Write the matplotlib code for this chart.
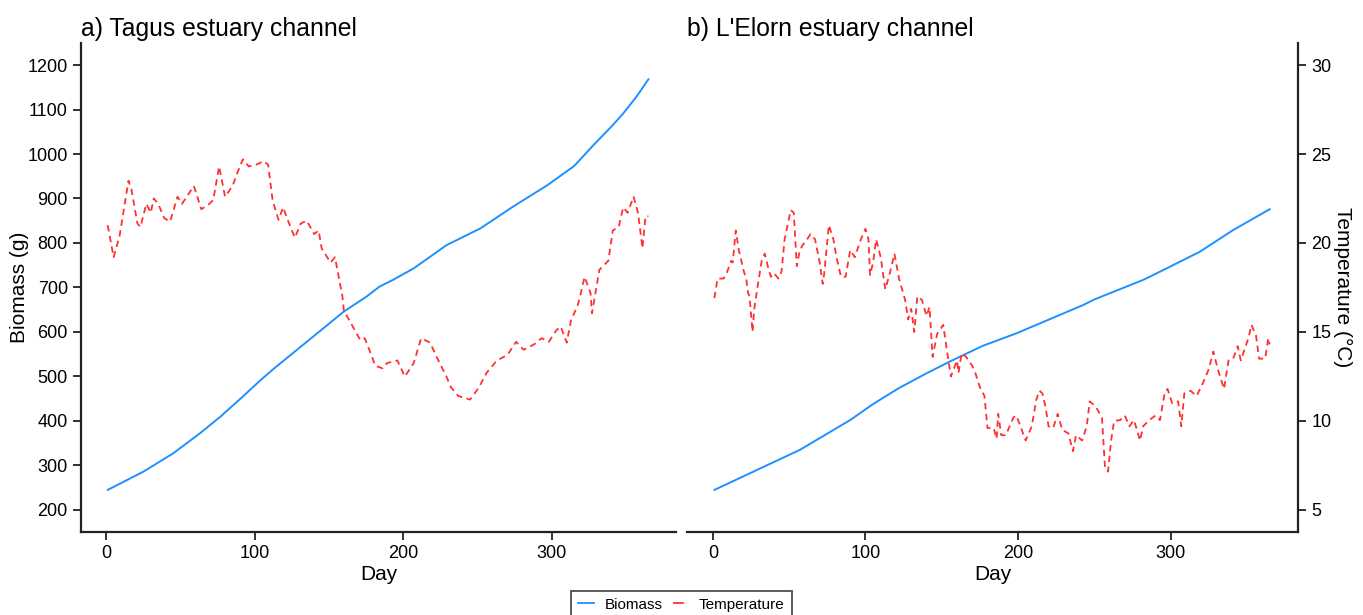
import matplotlib
matplotlib.use("Agg")
import matplotlib.pyplot as plt
from matplotlib.lines import Line2D

plt.rcParams["font.family"] = ["Liberation Sans", "DejaVu Sans"]

# a) Tagus - biomass (g)
tagus_bio_day = [1, 25, 45, 63, 77, 92, 104, 113, 131, 149, 160, 175, 184, 193, 207, 229, 252, 274, 297,
                 315, 328, 341, 348, 357, 365]
tagus_bio = [245, 286, 327, 372, 410, 455, 492, 518, 567, 616, 646, 679, 702, 717, 743, 795, 833, 882, 930,
             973, 1020, 1065, 1091, 1129, 1168]

# a) Tagus - temperature (degC)
tagus_temp_day = [1, 5, 9, 15, 17, 21, 23, 27, 30, 32, 35, 39, 43, 48, 51, 59, 64, 68, 72, 76, 80, 85, 89, 92,
                  96, 101, 106, 109, 112, 116, 119, 124, 127, 131, 135, 140, 143, 145, 151, 154, 159, 160,
                  166, 171, 174, 179, 181, 186, 189, 196, 201, 207, 212, 218, 223, 229, 232, 237, 245, 251,
                  256, 263, 270, 276, 281, 288, 293, 298, 303, 306, 310, 313, 317, 319, 322, 326, 327, 332,
                  338, 341, 345, 348, 351, 355, 358, 361, 363, 365]
tagus_temp = [21.0, 19.2, 20.4, 23.5, 23.0, 21.1, 20.9, 22.2, 21.7, 22.5, 22.2, 21.4, 21.2, 22.6, 22.2, 23.2,
              21.9, 22.1, 22.4, 24.3, 22.6, 23.2, 24.1, 24.7, 24.3, 24.4, 24.6, 24.4, 22.4, 21.3, 22.0, 20.9,
              20.3, 21.1, 21.25, 20.5, 20.7, 19.7, 18.9, 19.2, 17.0, 16.2, 15.3, 14.55, 14.65, 13.6, 13.1,
              12.96, 13.25, 13.4, 12.5, 13.25, 14.65, 14.4, 13.5, 12.5, 11.9, 11.4, 11.2, 11.9, 12.7, 13.4,
              13.7, 14.45, 14.0, 14.3, 14.65, 14.45, 15.1, 15.3, 14.4, 15.7, 16.4, 17.0, 18.1, 17.2, 16.05,
              18.5, 19.0, 20.7, 20.9, 22.0, 21.7, 22.6, 21.7, 19.7, 21.5, 21.5]

# b) L'Elorn - biomass (g)
elorn_bio_day = [1, 24, 57, 90, 105, 122, 140, 155, 177, 199, 243, 250, 282, 291, 319, 341, 365]
elorn_bio = [245, 282, 335, 402, 438, 474, 507, 533, 569, 597, 661, 673, 717, 732, 780, 829, 876]

# b) L'Elorn - temperature (degC)
elorn_temp_day = [1, 3, 7, 9, 12, 13, 15, 17, 20, 22, 23, 24, 26, 27, 29, 32, 34, 36, 38, 40, 43, 45, 47, 51,
                  53, 55, 57, 59, 61, 64, 67, 70, 72, 73, 76, 79, 81, 84, 87, 90, 93, 97, 100, 102, 103, 105,
                  107, 110, 113, 116, 119, 122, 126, 128, 130, 132, 134, 137, 140, 142, 144, 147, 151, 154,
                  156, 160, 161, 163, 166, 170, 172, 175, 178, 180, 184, 186, 187, 189, 192, 197, 199, 202,
                  205, 209, 212, 214, 216, 218, 220, 223, 226, 229, 233, 236, 238, 242, 245, 247, 251, 255,
                  257, 259, 261, 263, 267, 270, 273, 276, 280, 282, 286, 290, 293, 296, 298, 301, 305, 307,
                  309, 313, 317, 321, 325, 328, 331, 335, 338, 341, 344, 346, 351, 353, 356, 358, 362, 364, 365]
elorn_temp = [16.9, 18.0, 18.0, 18.3, 19.0, 18.9, 20.7, 19.6, 18.5, 17.9, 17.2, 17.0, 15.0, 16.2, 17.4, 19.0,
              19.4, 18.7, 18.1, 18.3, 18.0, 18.4, 20.2, 21.85, 21.7, 18.7, 19.6, 19.9, 20.1, 20.5, 20.2, 18.9,
              17.7, 18.3, 21.0, 20.2, 19.2, 18.1, 18.1, 19.6, 19.2, 20.2, 20.8, 20.2, 18.2, 18.9, 20.2, 19.2,
              17.4, 18.3, 19.4, 18.0, 16.8, 15.7, 16.3, 15.0, 17.0, 16.8, 15.9, 16.4, 13.6, 14.9, 15.4, 13.6,
              12.5, 13.4, 12.7, 13.8, 13.6, 13.1, 12.7, 11.9, 11.4, 9.6, 9.6, 9.0, 10.4, 9.2, 9.2, 10.2, 10.3,
              9.6, 8.9, 9.7, 11.2, 11.7, 11.55, 10.8, 9.7, 9.6, 10.4, 9.5, 9.3, 8.3, 9.2, 8.9, 9.7, 11.1, 10.8,
              10.2, 7.4, 7.15, 8.9, 10.0, 10.05, 10.3, 9.7, 10.05, 8.9, 9.7, 10.05, 10.3, 10.05, 11.5, 11.8,
              11.0, 11.1, 9.7, 11.55, 11.7, 11.4, 12.1, 12.9, 13.9, 12.9, 11.8, 13.4, 13.5, 14.2, 13.4, 14.65,
              15.4, 14.8, 13.5, 13.5, 14.65, 14.3]

bio_ticks = [200, 300, 400, 500, 600, 700, 800, 900, 1000, 1100, 1200]
temp_ticks = [5, 10, 15, 20, 25, 30]
day_ticks = [0, 100, 200, 300]

BLUE = "#1E90FF"
RED = "#FF3030"
DASH = (3.5, 2.5)

fig = plt.figure(figsize=(13.63, 6.15), dpi=100)
ax1 = fig.add_axes([0.0594, 0.1354, 0.4365, 0.7946])
ax2 = fig.add_axes([0.5040, 0.1354, 0.4483, 0.7946])

xlim = (-17, 383.5)
blim = (151, 1249.4)
tlim = (3.775, 31.235)

panels = [(ax1, "a) Tagus estuary channel", tagus_bio_day, tagus_bio, tagus_temp_day, tagus_temp),
          (ax2, "b) L'Elorn estuary channel", elorn_bio_day, elorn_bio, elorn_temp_day, elorn_temp)]

for i, (ax, title, bd, bv, td, tv) in enumerate(panels):
    ax.plot(bd, bv, color=BLUE, lw=1.4, zorder=3)
    tx = ax.twinx()
    tx.plot(td, tv, color=RED, lw=1.3, dashes=DASH)
    ax.set_xlim(*xlim)
    ax.set_ylim(*blim)
    tx.set_ylim(*tlim)
    ax.set_xticks(day_ticks)
    ax.set_xlabel("Day", fontsize=15, labelpad=2)
    ax.set_title(title, loc="left", fontsize=17.8, pad=5, x=0.0)
    for a in (ax, tx):
        a.spines["top"].set_visible(False)
        a.tick_params(direction="out", length=6, width=1.3, labelsize=13, color="#222222")
    ax.spines["bottom"].set_linewidth(1.6)
    ax.spines["bottom"].set_color("#222222")
    tx.spines["bottom"].set_visible(False)
    if i == 0:
        ax.set_yticks(bio_ticks)
        ax.set_ylabel("Biomass (g)", fontsize=15, labelpad=-1)
        ax.spines["left"].set_linewidth(1.6)
        ax.spines["left"].set_color("#222222")
        ax.spines["right"].set_visible(False)
        tx.spines["right"].set_visible(False)
        tx.spines["left"].set_visible(False)
        tx.set_yticks([])
    else:
        ax.spines["left"].set_visible(False)
        ax.spines["right"].set_visible(False)
        ax.set_yticks([])
        tx.spines["left"].set_visible(False)
        tx.spines["right"].set_linewidth(1.6)
        tx.spines["right"].set_color("#222222")
        tx.set_yticks(temp_ticks)
        tx.set_ylabel("Temperature (°C)", fontsize=15, rotation=270, labelpad=15)

handles = [Line2D([], [], color=BLUE, lw=1.3),
           Line2D([], [], color=RED, lw=1.3, dashes=(6, 3))]
leg = fig.legend(handles, ["Biomass", "Temperature"], loc="upper center", bbox_to_anchor=(0.5, 0.052),
                 ncol=2, fontsize=11, frameon=True, fancybox=False, edgecolor="#222222",
                 handlelength=1.0, handletextpad=0.7, columnspacing=0.7, borderpad=0.45)
leg.get_frame().set_linewidth(1.3)

fig.savefig("out.png", dpi=100)
